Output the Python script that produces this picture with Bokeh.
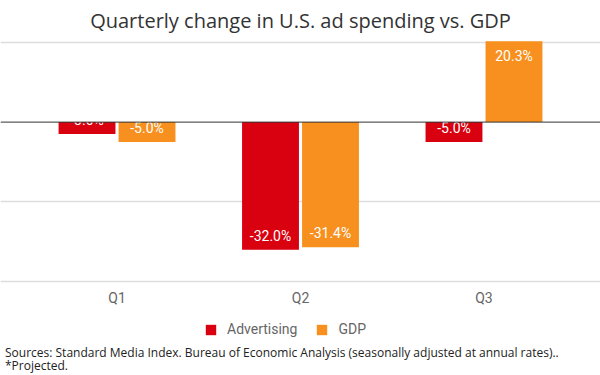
from bokeh.plotting import figure
from bokeh.models import (ColumnDataSource, FactorRange, Range1d, Span, Legend, LegendItem,
                          FixedTicker, Div, CDSView, BooleanFilter)
from bokeh.layouts import column
from bokeh.transform import dodge
from bokeh.core.properties import value
from bokeh.embed import file_html
from bokeh.resources import INLINE

quarters = ["Q1", "Q2", "Q3"]
advertising = [-3.0, -32.0, -5.0]
gdp = [-5.0, -31.4, 20.3]
series_names = ["Advertising", "GDP"]
colors = ["#d9000f", "#f7901e"]
grid_ticks = [-40, -20, 20]
notes = ["Sources: Standard Media Index. Bureau of Economic Analysis (seasonally adjusted at annual rates)..",
         "*Projected."]

def labels(vals):
    return ["%.1f%%" % v for v in vals]

p = figure(width=600, height=308,
           x_range=FactorRange(*quarters, range_padding=0.09),
           y_range=Range1d(-40.49, 21.23),
           y_axis_location=None,
           output_backend="svg", toolbar_location=None,
           min_border_left=0, min_border_right=0, min_border_top=36, min_border_bottom=0)

p.title.text = "Quarterly change in U.S. ad spending vs. GDP"
p.title.align = "center"
p.title.text_font = "Open Sans"
p.title.text_font_size = "20px"
p.title.text_font_style = "normal"
p.title.text_color = "#333333"
p.title.standoff = 8

p.outline_line_color = None
p.xgrid.grid_line_color = None
p.ygrid.ticker = FixedTicker(ticks=grid_ticks)
p.ygrid.grid_line_color = "#dddddd"
p.ygrid.grid_line_width = 1.5

p.add_layout(Span(location=0, dimension="width", line_color="#333333", line_width=1))

w = 0.31
for vals, dx, c in ((advertising, -0.1635, colors[0]), (gdp, 0.1635, colors[1])):
    s = ColumnDataSource(dict(q=quarters, v=vals, t=labels(vals)))
    p.vbar(x=dodge("q", dx, range=p.x_range), top="v", bottom=0, width=w, source=s,
           fill_color=c, line_color=None)
    for is_neg, off in ((True, -14), (False, 15)):
        view = CDSView(filter=BooleanFilter([(v < 0) == is_neg for v in vals]))
        p.text(x=dodge("q", dx, range=p.x_range), y="v", text="t", source=s, view=view,
               y_offset=off, text_align="center", text_baseline="middle", text_color="white",
               text_font=value("Roboto"), text_font_size="14px")

ax = p.xaxis[0]
ax.axis_line_color = None
ax.major_tick_line_color = None
ax.minor_tick_line_color = None
ax.major_tick_out = 0
ax.major_tick_in = 0
ax.major_label_text_font = "Roboto"
ax.major_label_text_font_size = "14px"
ax.major_label_text_color = "#666666"
ax.major_label_standoff = 6

# legend strip
p2 = figure(width=600, height=38, x_range=Range1d(0, 1), y_range=Range1d(0, 1),
            x_axis_location=None, y_axis_location=None,
            output_backend="svg", toolbar_location=None,
            min_border_left=0, min_border_right=0, min_border_top=0, min_border_bottom=0)
p2.outline_line_color = None
p2.xgrid.visible = False
p2.ygrid.visible = False
items = []
for name, c in zip(series_names, colors):
    r = p2.vbar(x=[0], top=[0], bottom=0, width=0, fill_color=c, line_color=None)
    items.append(LegendItem(label=name, renderers=[r]))
legend = Legend(items=items, orientation="horizontal", location=(204, 9),
                label_text_font="Roboto", label_text_font_size="14px", label_text_color="#666666",
                glyph_width=13, glyph_height=13, label_standoff=10, spacing=18,
                padding=0, margin=0, border_line_color=None, background_fill_alpha=0)
p2.add_layout(legend)

div = Div(text="<br>".join(notes), width=600, height=29,
          styles={"font-family": "Open Sans", "font-size": "12px", "line-height": "13px",
                  "color": "#222222", "padding-left": "5px", "margin": "0"})

layout = column(p, p2, div, spacing=0)
open("out.html", "w").write(file_html(layout, INLINE))
